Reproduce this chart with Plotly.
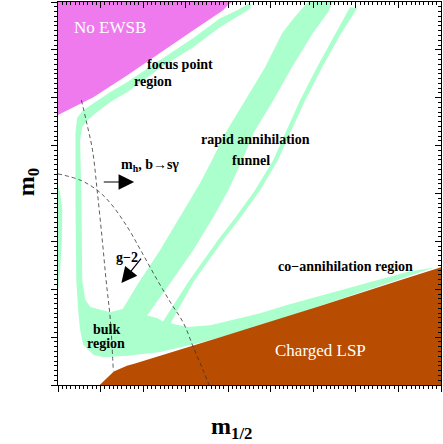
import plotly.graph_objects as go

# schematic mSUGRA plane, axes in arbitrary units (m_1/2 0..9, m_0 0..8)
ewsb_x = [0, 4.09, 4.00, 3.88, 3.18, 2.40, 1.63, 0.83, 0]
ewsb_y = [8, 8, 7.94, 7.83, 7.41, 6.93, 6.47, 6.01, 5.64]

lsp_x = [0.98, 1.31, 1.62, 1.81, 3.81, 6.16, 8.11, 9, 9]
lsp_y = [0, 0.28, 0.40, 0.45, 1.00, 1.65, 2.21, 2.46, 0]

# focus point strip + bulk + co-annihilation strip
relic_x = [4.47, 4.21, 3.81, 3.18, 2.40, 1.63, 1.23, 0.83, 0.59, 0.45,
           0.41, 0.41, 0.43, 0.48, 0.52, 0.59, 0.83, 1.06, 1.63, 2.40,
           3.04, 3.34, 3.98, 4.75, 5.38, 6.93, 8.20, 8.86,
           8.20, 6.93, 5.38, 4.75, 4.12, 3.58, 3.04, 2.59, 2.47, 2.33,
           1.98, 1.51, 1.23, 0.99, 0.76, 0.64, 0.57, 0.55, 0.52, 0.57,
           0.69, 0.92, 1.23, 1.63, 2.40, 3.18, 3.81, 4.28, 4.52, 4.54]
relic_y = [7.96, 7.83, 7.66, 7.25, 6.79, 6.33, 6.12, 5.89, 5.74, 5.58,
           5.26, 3.86, 2.19, 1.50, 1.15, 0.84, 0.63, 0.58, 0.61, 0.69,
           0.81, 0.88, 1.04, 1.23, 1.42, 1.88, 2.26, 2.46,
           2.36, 2.05, 1.67, 1.50, 1.36, 1.25, 1.21, 1.29, 1.32, 1.40,
           1.48, 1.59, 1.52, 1.57, 1.63, 1.78, 2.19, 3.86, 5.12, 5.39,
           5.53, 5.70, 5.91, 6.12, 6.62, 7.06, 7.48, 7.73, 7.87, 7.94]

# rapid annihilation funnel (wide band)
funnel_x = [1.42, 1.89, 2.40, 2.87, 3.34, 3.62, 3.93, 4.40, 4.87, 5.27, 5.50, 5.76, 5.88,
            6.46, 6.35, 5.99, 5.50, 5.06, 4.59, 4.33, 4.00, 3.65, 3.18, 2.64, 2.05]
funnel_y = [1.44, 2.13, 2.82, 3.51, 4.22, 4.70, 5.26, 5.95, 6.64, 7.35, 7.62, 7.89, 8.0,
            8.0, 7.79, 7.35, 6.64, 5.95, 5.26, 4.70, 4.07, 3.51, 2.82, 2.13, 1.40]

# funnel, thin branch
branch_x = [2.40, 3.06, 3.76, 4.16, 4.63, 5.06, 5.34, 5.69, 6.09, 6.51, 6.86,
            7.03, 6.63, 6.21, 5.81, 5.45, 5.17, 4.75, 4.28, 3.88, 3.18, 2.61]
branch_y = [1.23, 2.15, 3.03, 3.49, 4.07, 4.70, 5.26, 5.95, 6.64, 7.31, 7.89,
            7.87, 7.31, 6.64, 5.95, 5.26, 4.70, 4.07, 3.49, 3.03, 2.15, 1.23]

# sliver along the m_0 axis
edge_x = [0, 0.05, 0.10, 0.09, 0.05, 0.02, 0]
edge_y = [4.18, 4.01, 3.65, 3.03, 2.40, 1.98, 1.94]

# constraint contours
mh_x = [0.55, 0.66, 0.81, 0.92, 1.04, 1.13, 1.23, 1.30]
mh_y = [5.95, 5.53, 4.91, 4.07, 3.03, 2.19, 1.36, 0.29]
g2_x = [0, 0.52, 0.92, 1.23, 1.63, 1.94, 2.29, 2.64, 2.95, 3.18, 3.41, 3.55]
g2_y = [4.41, 4.28, 4.07, 3.80, 3.30, 2.82, 2.26, 1.73, 1.29, 0.79, 0.31, 0]

MINT = "#AAFFCC"
SERIF = "Liberation Serif, Times New Roman, serif"

fig = go.Figure()


def region(x, y, color):
    fig.add_trace(go.Scatter(x=x, y=y, mode="lines", fill="toself", fillcolor=color,
                             line=dict(width=0, color=color), hoverinfo="skip"))


region(relic_x, relic_y, MINT)
region(funnel_x, funnel_y, MINT)
region(branch_x, branch_y, MINT)
region(edge_x, edge_y, MINT)
region(ewsb_x, ewsb_y, "#EE7AEE")
region(lsp_x, lsp_y, "#B84C00")

for cx, cy in [(mh_x, mh_y), (g2_x, g2_y)]:
    fig.add_trace(go.Scatter(x=cx, y=cy, mode="lines", hoverinfo="skip",
                             line=dict(color="#333333", width=0.8, dash="4px,3px", shape="spline")))

# dummy trace so the mirrored top/right axes get drawn
fig.add_trace(go.Scatter(x=[0], y=[0], xaxis="x2", yaxis="y2", mode="markers",
                         marker=dict(opacity=0), hoverinfo="skip"))

labels = [
    ("No EWSB", 1.23, 7.47, 17, "white", "normal"),
    ("focus point", 2.86, 6.70, 14, "black", "bold"),
    ("region", 2.23, 6.33, 14, "black", "bold"),
    ("rapid annihilation", 4.63, 5.12, 14, "black", "bold"),
    ("funnel", 4.54, 4.68, 14, "black", "bold"),
    ("bulk", 1.13, 1.15, 14, "black", "bold"),
    ("region", 1.13, 0.86, 14, "black", "bold"),
    ("co\u2212annihilation region", 6.76, 2.48, 14, "black", "bold"),
    ("Charged LSP", 6.16, 0.73, 17, "white", "normal"),
    ("m<sub>h</sub>, b\u2192s\u03b3", 2.17, 4.58, 14, "black", "bold"),
    ("g\u22122", 1.63, 2.66, 14, "black", "bold"),
]
for text, x, y, size, color, weight in labels:
    fig.add_annotation(x=x, y=y, text=text, showarrow=False,
                       font=dict(family=SERIF, size=size, color=color, weight=weight))

arrows = [(1.79, 4.24, 1.04, 4.24), (1.49, 2.13, 1.98, 2.67)]
for x, y, ax, ay in arrows:
    fig.add_annotation(x=x, y=y, ax=ax, ay=ay, xref="x", yref="y", axref="x", ayref="y",
                       text="", showarrow=True, arrowhead=2, arrowsize=2.6, arrowwidth=1.2,
                       arrowcolor="black", standoff=0)

fig.add_annotation(x=0.452, y=-0.156, xref="paper", yref="paper", showarrow=False,
                   text="m<sub>1/2</sub>", font=dict(family=SERIF, size=24, color="black", weight="bold"))
fig.add_annotation(x=-0.122, y=0.53, xref="paper", yref="paper", showarrow=False, textangle=-90,
                   text="m<sub>0</sub>", font=dict(family=SERIF, size=24, color="black", weight="bold"))

axis_common = dict(showgrid=False, zeroline=False, showticklabels=False, showline=True,
                   linecolor="black", linewidth=1, tickcolor="black", tickwidth=1, dtick=1, tick0=0)
fig.update_layout(
    width=443, height=444,
    margin=dict(l=58, r=2, t=2, b=59),
    paper_bgcolor="white", plot_bgcolor="white",
    showlegend=False,
    xaxis=dict(range=[0, 9], ticks="outside", ticklen=6,
               minor=dict(ticks="outside", dtick=0.1, ticklen=3, tickcolor="black"), **axis_common),
    yaxis=dict(range=[0, 8], ticks="outside", ticklen=6,
               minor=dict(ticks="outside", dtick=0.1, ticklen=3, tickcolor="black"), **axis_common),
    xaxis2=dict(range=[0, 9], overlaying="x", side="top", anchor="y2", ticks="inside", ticklen=6,
                minor=dict(ticks="inside", dtick=0.1, ticklen=3, tickcolor="black"), **axis_common),
    yaxis2=dict(range=[0, 8], overlaying="y", side="right", anchor="x2", ticks="inside", ticklen=6,
                minor=dict(ticks="inside", dtick=0.1, ticklen=3, tickcolor="black"), **axis_common),
)

# page body has an 8px default margin; drop it so the 443x444 figure fills the window
fig.write_html("out.html", config={"displayModeBar": False},
               post_script="document.body.style.margin='0px';")
